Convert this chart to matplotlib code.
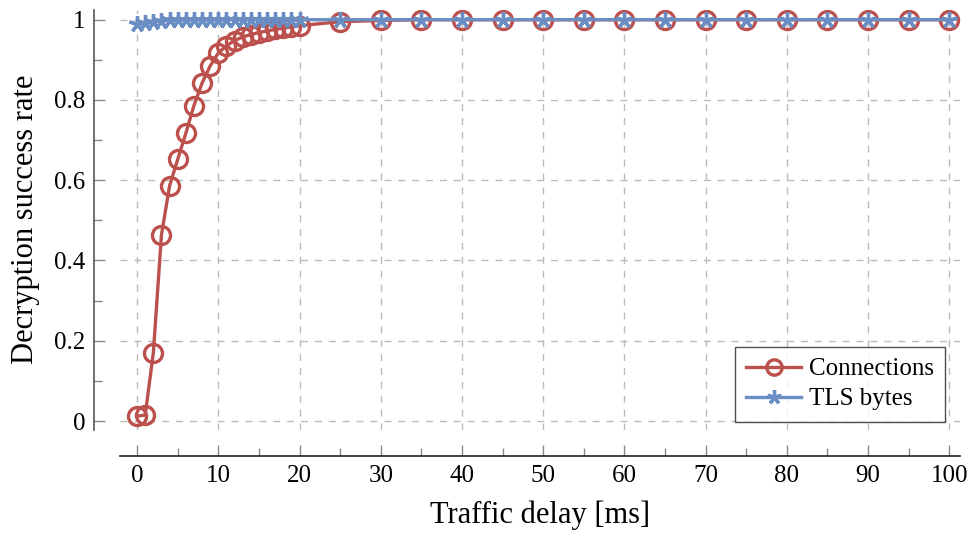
import matplotlib.pyplot as plt
from matplotlib.ticker import MultipleLocator

delay_ms = list(range(0, 21)) + list(range(25, 101, 5))

connections = [0.012, 0.015, 0.170, 0.464, 0.586, 0.652, 0.717, 0.786, 0.842, 0.885,
               0.917, 0.935, 0.948, 0.957, 0.963, 0.968, 0.972, 0.976, 0.979, 0.982,
               0.985, 0.995, 0.998, 1.0, 1.0, 1.0, 1.0, 1.0, 1.0, 1.0, 1.0, 1.0, 1.0,
               1.0, 1.0, 1.0, 1.0]

tls_bytes = [0.988, 0.992, 0.995, 0.997, 0.998, 0.999, 1.0, 1.0, 1.0, 1.0,
             1.0, 1.0, 1.0, 1.0, 1.0, 1.0, 1.0, 1.0, 1.0, 1.0,
             1.0, 1.0, 1.0, 1.0, 1.0, 1.0, 1.0, 1.0, 1.0, 1.0, 1.0, 1.0, 1.0,
             1.0, 1.0, 1.0, 1.0]

x_ticks = [0, 10, 20, 30, 40, 50, 60, 70, 80, 90, 100]
y_ticks = [0, 0.2, 0.4, 0.6, 0.8, 1]
y_tick_labels = ["0", "0.2", "0.4", "0.6", "0.8", "1"]

RED = "#bc504c"
BLUE = "#6a8dc3"

plt.rcParams["font.family"] = ["Liberation Serif", "DejaVu Serif"]

fig = plt.figure(figsize=(9.72, 5.36), dpi=100)
ax = fig.add_axes([0.1235, 0.198, 0.864, 0.784])

ax.plot(delay_ms, connections, color=RED, lw=2.4, marker="o", ms=13,
        mfc="none", mec=RED, mew=2.4, label="Connections", zorder=3)
ax.plot(delay_ms, tls_bytes, color=BLUE, lw=2.4, marker=(5, 2, 0), ms=12,
        mec=BLUE, mew=2.4, label="TLS bytes", zorder=4)

ax.set_xlim(-2.1, 101.3)
ax.set_ylim(-0.022, 1.025)
ax.set_xticks(x_ticks)
ax.set_yticks(y_ticks)
ax.set_yticklabels(y_tick_labels)
ax.xaxis.set_minor_locator(MultipleLocator(5))
ax.yaxis.set_minor_locator(MultipleLocator(0.1))

ax.grid(True, which="major", color="#bbbbbb", ls=(0, (5, 5)), lw=1.0)

for side in ["top", "right"]:
    ax.spines[side].set_visible(False)
ax.spines["left"].set_position(("outward", 19))
ax.spines["bottom"].set_position(("outward", 19))
ax.spines["left"].set_color("#555555")
ax.spines["bottom"].set_color("#222222")
ax.spines["left"].set_linewidth(1.2)
ax.spines["bottom"].set_linewidth(1.2)

ax.tick_params(which="both", direction="in", color="#888888", width=1.0,
               labelsize=18, pad=6)
ax.tick_params(which="major", length=8)
ax.tick_params(which="minor", length=6)

ax.set_xlabel("Traffic delay [ms]", fontsize=22, labelpad=10)
ax.set_ylabel("Decryption success rate", fontsize=22, labelpad=10)

leg = ax.legend(loc="lower right", bbox_to_anchor=(0.997, -0.01), fontsize=18,
                frameon=True, fancybox=False, edgecolor="#222222",
                handlelength=2.2, borderpad=0.45, labelspacing=0.3,
                handletextpad=0.3, markerscale=0.85)
leg.get_frame().set_linewidth(1.0)

fig.savefig("out.png", dpi=100)
